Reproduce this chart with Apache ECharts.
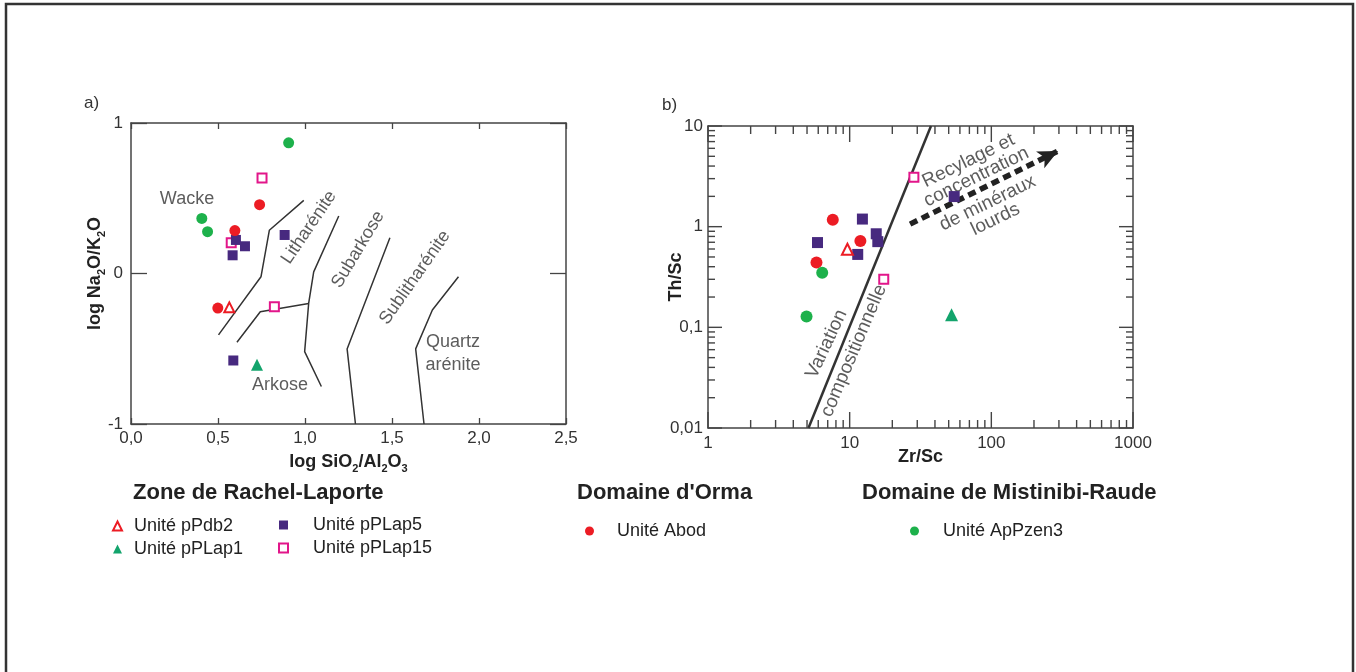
<!DOCTYPE html>
<html>
<head>
<meta charset="utf-8">
<title>Diagrammes de classification</title>
<script src="https://cdn.jsdelivr.net/npm/echarts@6/dist/echarts.min.js"></script>
<style>
  html, body { margin: 0; padding: 0; background: #fff; }
  #chart { width: 1356px; height: 672px; }
</style>
</head>
<body>
<div id="chart"></div>
<script>
// ---- données ----
// a) log SiO2/Al2O3 (x) vs log Na2O/K2O (y)
var pPdb2A = [[0.565, -0.225]];
var pPLap1A = [[0.724, -0.607]];
var pPLap5A = [[0.883, 0.256], [0.603, 0.223], [0.655, 0.181], [0.584, 0.121], [0.588, -0.578]];
var pPLap15A = [[0.753, 0.634], [0.576, 0.205], [0.824, -0.221]];
var abodA = [[0.739, 0.457], [0.597, 0.285], [0.499, -0.23]];
var apPzen3A = [[0.906, 0.868], [0.407, 0.366], [0.44, 0.278]];

// limites des champs (Pettijohn)
var champsA = [
  [[0.993, 0.486], [0.795, 0.287], [0.747, -0.022], [0.503, -0.408]],
  [[0.609, -0.457], [0.743, -0.254], [1.021, -0.199]],
  [[1.194, 0.382], [1.050, 0.011], [1.021, -0.199], [0.998, -0.519], [1.094, -0.751]],
  [[1.488, 0.238], [1.242, -0.501], [1.290, -1]],
  [[1.882, -0.022], [1.732, -0.243], [1.636, -0.501], [1.684, -1]]
];
var nomsA = ['Wacke', 'Arkose', 'Litharénite', 'Subarkose', 'Sublitharénite', 'Quartz\narénite'];
var posNomsA = [[0.322, 0.498], [0.856, -0.744], [1.023, 0.306], [1.305, 0.159], [1.632, -0.027], [1.851, -0.532]];
var angNomsA = [0, 0, 56, 59, 55, 0];

// b) Zr/Sc (x) vs Th/Sc (y)
var pPdb2B = [[9.64, 0.597]];
var pPLap1B = [[52.4, 0.133]];
var pPLap5B = [[5.93, 0.695], [12.3, 1.19], [11.4, 0.53], [15.4, 0.85], [15.8, 0.71], [54.7, 1.99]];
var pPLap15B = [[28.4, 3.09], [17.4, 0.30]];
var abodB = [[7.6, 1.17], [11.9, 0.72], [5.83, 0.44]];
var apPzen3B = [[6.4, 0.348], [4.96, 0.128]];

var compoLigne = [[5.12, 0.01], [37.5, 10]];
var fleche = [[26.7, 1.06], [296, 5.65]];
var nomsB = ['Variation', 'compositionnelle', 'Recylage et\nconcentration', 'de minéraux\nlourds'];
var posNomsB = [[6.87, 0.0683], [10.7, 0.0586], [73.5, 3.75], [100.3, 1.42]];
var angNomsB = [65, 67, 26, 26];

var majorX = [1, 10, 100, 1000];
var majorY = [0.01, 0.1, 1, 10];
var minorX = [2, 3, 4, 5, 6, 7, 8, 9, 20, 30, 40, 50, 60, 70, 80, 90, 200, 300, 400, 500, 600, 700, 800, 900];
var minorY = [0.02, 0.03, 0.04, 0.05, 0.06, 0.07, 0.08, 0.09, 0.2, 0.3, 0.4, 0.5, 0.6, 0.7, 0.8, 0.9, 2, 3, 4, 5, 6, 7, 8, 9];

// ---- styles ----
var ROUGE = '#ec1c24', VIOLET = '#47297f', ROSE = '#e2168a', VERT = '#1db14b', TURQ = '#13a46c';
var FRAME = '#444', TXT = '#333';
var FONT = '"Liberation Sans", Arial, sans-serif';

var chart = echarts.init(document.getElementById('chart'));

function unite(name, data, g, symbol, color, open, size) {
  return {
    name: name,
    type: 'scatter',
    xAxisIndex: g * 2,
    yAxisIndex: g * 2,
    symbol: symbol,
    symbolSize: size,
    itemStyle: open
      ? { color: '#fff', borderColor: color, borderWidth: 2, opacity: 1 }
      : { color: color, opacity: 1 },
    data: data,
    z: 5
  };
}

function noms(names, pos, ang, g, fs, lh) {
  return {
    type: 'scatter',
    xAxisIndex: g * 2,
    yAxisIndex: g * 2,
    symbolSize: 0,
    silent: true,
    z: 3,
    label: {
      show: true,
      position: 'inside',
      formatter: '{b}',
      fontSize: fs,
      color: TXT,
      lineHeight: lh
    },
    data: names.map(function (n, i) {
      return { name: n, value: pos[i], label: { rotate: ang[i] } };
    })
  };
}

// graduations du graphique log (b), sur les 4 côtés, vers l'intérieur
function tickSeries(vals, isX, L) {
  return {
    type: 'custom',
    xAxisIndex: 2,
    yAxisIndex: 2,
    silent: true,
    z: 4,
    data: vals.map(function (v) { return isX ? [v, 1] : [10, v]; }),
    renderItem: function (params, api) {
      var cs = params.coordSys;
      var p = api.coord([api.value(0), api.value(1)]);
      var st = { stroke: FRAME, lineWidth: 1.4 };
      if (isX) {
        return { type: 'group', children: [
          { type: 'line', shape: { x1: p[0], y1: cs.y + cs.height, x2: p[0], y2: cs.y + cs.height - L }, style: st },
          { type: 'line', shape: { x1: p[0], y1: cs.y, x2: p[0], y2: cs.y + L }, style: st }
        ] };
      }
      return { type: 'group', children: [
        { type: 'line', shape: { x1: cs.x, y1: p[1], x2: cs.x + L, y2: p[1] }, style: st },
        { type: 'line', shape: { x1: cs.x + cs.width, y1: p[1], x2: cs.x + cs.width - L, y2: p[1] }, style: st }
      ] };
    }
  };
}

var axLine = { onZero: false, lineStyle: { color: FRAME, width: 1.5 } };
var nameRich = {
  t: { fontSize: 18, fontWeight: 'bold', color: '#222', lineHeight: 24, fontFamily: FONT },
  s: { fontSize: 11, fontWeight: 'bold', color: '#222', lineHeight: 12, verticalAlign: 'bottom', fontFamily: FONT }
};
var virg = function (v) { return String(v).replace('.', ','); };

var series = [];
champsA.forEach(function (c) {
  series.push({
    type: 'line', xAxisIndex: 0, yAxisIndex: 0, data: c, symbol: 'none', silent: true,
    lineStyle: { color: '#333', width: 1.5 }, z: 2
  });
});
series.push(noms(nomsA, posNomsA, angNomsA, 0, 18, 23));
series.push(unite('Unité pPLap15', pPLap15A, 0, 'rect', ROSE, true, 9));
series.push(unite('Unité pPLap5', pPLap5A, 0, 'rect', VIOLET, false, 10));
series.push(unite('Unité pPdb2', pPdb2A, 0, 'triangle', ROUGE, true, 10));
series.push(unite('Unité pPLap1', pPLap1A, 0, 'triangle', TURQ, false, 12));
series.push(unite('Unité Abod', abodA, 0, 'circle', ROUGE, false, 11));
series.push(unite('Unité ApPzen3', apPzen3A, 0, 'circle', VERT, false, 11));

series.push(tickSeries(minorX, true, 8));
series.push(tickSeries(minorY, false, 7));
series.push(tickSeries(majorX, true, 16));
series.push(tickSeries(majorY, false, 14));
series.push({
  type: 'line', xAxisIndex: 2, yAxisIndex: 2, data: compoLigne, symbol: 'none', silent: true,
  lineStyle: { color: '#333', width: 2.5 }, z: 2,
  markLine: {
    silent: true,
    symbol: ['none', 'arrow'],
    symbolSize: [14, 20],
    label: { show: false },
    lineStyle: { color: '#222', width: 5.5, type: [8, 5] },
    data: [[{ coord: fleche[0] }, { coord: fleche[1] }]]
  }
});
series.push(noms(nomsB, posNomsB, angNomsB, 1, 19, 18));
series.push(unite('Unité pPLap15', pPLap15B, 1, 'rect', ROSE, true, 9));
series.push(unite('Unité pPLap5', pPLap5B, 1, 'rect', VIOLET, false, 11));
series.push(unite('Unité pPdb2', pPdb2B, 1, 'triangle', ROUGE, true, 11));
series.push(unite('Unité pPLap1', pPLap1B, 1, 'triangle', TURQ, false, 13));
series.push(unite('Unité Abod', abodB, 1, 'circle', ROUGE, false, 12));
series.push(unite('Unité ApPzen3', apPzen3B, 1, 'circle', VERT, false, 12));

function leg(data, left, top, pad) {
  return {
    data: data, orient: 'vertical', left: left, top: top, padding: 0,
    itemWidth: 9, itemHeight: 9, itemGap: 3, selectedMode: false,
    textStyle: { fontSize: 18, color: '#222', fontFamily: FONT, lineHeight: 20, padding: [0, 0, 0, pad] }
  };
}

var option = {
  animation: false,
  textStyle: { fontFamily: FONT },
  title: [
    { text: 'a)', left: 84, top: 95, padding: 0, textStyle: { fontSize: 17, fontWeight: 'normal', color: TXT } },
    { text: 'b)', left: 662, top: 97, padding: 0, textStyle: { fontSize: 17, fontWeight: 'normal', color: TXT } },
    { text: 'Zone de Rachel-Laporte', left: 133, top: 482, padding: 0, textStyle: { fontSize: 22, fontWeight: 'bold', color: '#222' } },
    { text: "Domaine d'Orma", left: 577, top: 482, padding: 0, textStyle: { fontSize: 22, fontWeight: 'bold', color: '#222' } },
    { text: 'Domaine de Mistinibi-Raude', left: 862, top: 482, padding: 0, textStyle: { fontSize: 22, fontWeight: 'bold', color: '#222' } }
  ],
  legend: [
    leg(['Unité pPdb2', 'Unité pPLap1'], 112, 516, 7),
    leg(['Unité pPLap5', 'Unité pPLap15'], 278, 515, 20),
    leg(['Unité Abod'], 585, 521, 18),
    leg(['Unité ApPzen3'], 910, 521, 19)
  ],
  grid: [
    { left: 131, top: 123, width: 435, height: 301 },
    { left: 708, top: 126, width: 425, height: 302 }
  ],
  xAxis: [
    {
      gridIndex: 0, type: 'value', min: 0, max: 2.5, interval: 0.5,
      axisLine: axLine, splitLine: { show: false },
      axisTick: { inside: true, length: 6, lineStyle: { color: FRAME, width: 1.3 } },
      axisLabel: { fontSize: 17, color: TXT, margin: 6, formatter: function (v) { return v.toFixed(1).replace('.', ','); } },
      name: '{t|log SiO}{s|2}{t|/Al}{s|2}{t|O}{s|3}', nameLocation: 'middle', nameGap: 26, nameMoveOverlap: false,
      nameTextStyle: { rich: nameRich }
    },
    {
      gridIndex: 0, type: 'value', position: 'top', min: 0, max: 2.5, interval: 0.5,
      axisLine: axLine, splitLine: { show: false }, axisLabel: { show: false },
      axisTick: { inside: true, length: 6, lineStyle: { color: FRAME, width: 1.3 } }
    },
    {
      gridIndex: 1, type: 'log', logBase: 10, min: 1, max: 1000,
      axisLine: axLine, splitLine: { show: false }, axisTick: { show: false }, minorTick: { show: false },
      axisLabel: { fontSize: 17, color: TXT, margin: 7, formatter: virg },
      name: '{t|Zr/Sc}', nameLocation: 'middle', nameGap: 17, nameMoveOverlap: false,
      nameTextStyle: { rich: nameRich }
    },
    {
      gridIndex: 1, type: 'log', logBase: 10, min: 1, max: 1000, position: 'top',
      axisLine: axLine, splitLine: { show: false }, axisLabel: { show: false }, axisTick: { show: false }
    }
  ],
  yAxis: [
    {
      gridIndex: 0, type: 'value', min: -1, max: 1, interval: 1,
      axisLine: axLine, splitLine: { show: false },
      axisTick: { inside: true, length: 16, lineStyle: { color: FRAME, width: 1.3 } },
      axisLabel: { fontSize: 17, color: TXT, margin: 8 },
      name: '{t|log Na}{s|2}{t|O/K}{s|2}{t|O}', nameLocation: 'middle', nameGap: 24, nameRotate: 90, nameMoveOverlap: false,
      nameTextStyle: { rich: nameRich }
    },
    {
      gridIndex: 0, type: 'value', position: 'right', min: -1, max: 1, interval: 1,
      axisLine: axLine, splitLine: { show: false }, axisLabel: { show: false },
      axisTick: { inside: true, length: 16, lineStyle: { color: FRAME, width: 1.3 } }
    },
    {
      gridIndex: 1, type: 'log', logBase: 10, min: 0.01, max: 10,
      axisLine: axLine, splitLine: { show: false }, axisTick: { show: false }, minorTick: { show: false },
      axisLabel: { fontSize: 17, color: TXT, margin: 5, formatter: virg },
      name: '{t|Th/Sc}', nameLocation: 'middle', nameGap: 20, nameRotate: 90, nameMoveOverlap: false,
      nameTextStyle: { rich: nameRich }
    },
    {
      gridIndex: 1, type: 'log', logBase: 10, min: 0.01, max: 10, position: 'right',
      axisLine: axLine, splitLine: { show: false }, axisLabel: { show: false }, axisTick: { show: false }
    }
  ],
  graphic: [
    { type: 'rect', shape: { x: 6, y: 4, width: 1347, height: 680 }, style: { fill: 'none', stroke: '#333', lineWidth: 2.5 }, silent: true }
  ],
  series: series
};

chart.setOption(option);
</script>
</body>
</html>
